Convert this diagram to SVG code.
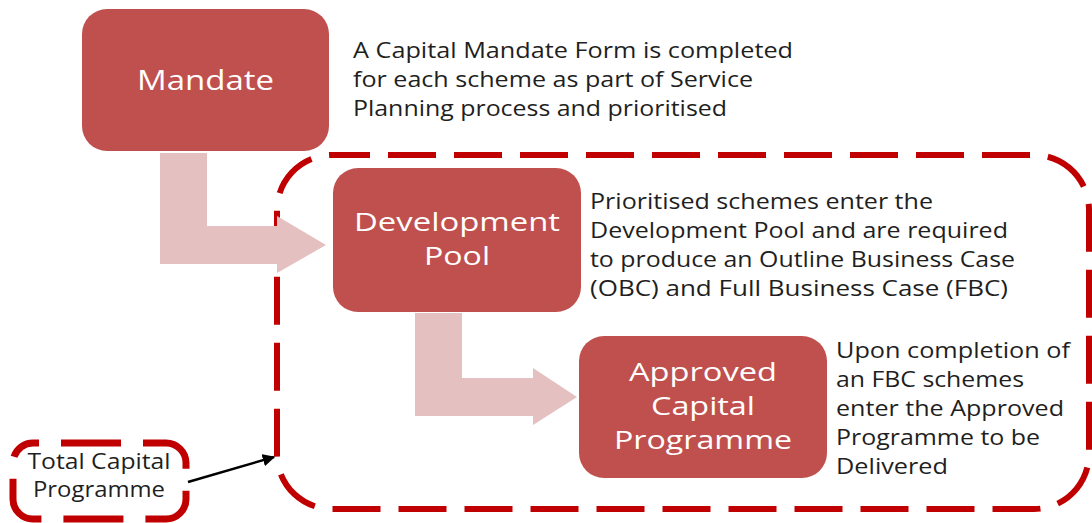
<svg xmlns="http://www.w3.org/2000/svg" width="1092" height="523" viewBox="0 0 1092 523">
<defs>
<style>
.box{fill:#C0504D;}
.lbl{fill:#FFFFFF;font-family:"Open Sans","Noto Sans",sans-serif;font-size:25px;text-anchor:middle;}
.desc{fill:#1F1F1F;font-family:"Open Sans","Noto Sans",sans-serif;font-size:22.5px;}
.pink{fill:#E4C0C1;}
.dash{fill:none;stroke:#C00000;stroke-width:6;stroke-dasharray:48 18;}
.dash2{fill:none;stroke:#C00000;stroke-width:7;stroke-dasharray:60 22;}
</style>
<marker id="ah" viewBox="0 0 10 10" refX="9" refY="5" markerWidth="5" markerHeight="5" orient="auto" markerUnits="strokeWidth">
<path d="M0,0 L10,5 L0,10 z" fill="#000"/>
</marker>
</defs>
<rect width="1092" height="523" fill="#FFFFFF"/>
<g id="total-capital-programme-frame">
<rect class="dash" x="277" y="155" width="812" height="354" rx="55" ry="55" stroke-dashoffset="10"/>
</g>
<g id="connectors">
<polygon class="pink" points="160,153 207,153 207,226 277,226 277,216 326,245 277,273 277,264 160,264"/>
<polygon class="pink" points="415,313 462,313 462,378 533,378 533,368 577,397 533,425 533,416 415,416"/>
<line x1="188" y1="482" x2="274" y2="457" stroke="#000" stroke-width="2.5" marker-end="url(#ah)"/>
</g>
<g id="mandate">
<rect class="box" x="82" y="9" width="247" height="142" rx="25"/>
<text class="lbl" x="205.5" y="90" textLength="137" lengthAdjust="spacingAndGlyphs" style="font-size:28px">Mandate</text>
</g>
<g id="mandate-desc">
<text class="desc" x="353" y="58" textLength="440" lengthAdjust="spacingAndGlyphs">A Capital Mandate Form is completed</text>
<text class="desc" x="353" y="87" textLength="400" lengthAdjust="spacingAndGlyphs">for each scheme as part of Service</text>
<text class="desc" x="353" y="116" textLength="374" lengthAdjust="spacingAndGlyphs">Planning process and prioritised</text>
</g>
<g id="development-pool">
<rect class="box" x="333" y="168" width="248" height="144" rx="25"/>
<text class="lbl" x="457" y="231" textLength="206" lengthAdjust="spacingAndGlyphs">Development</text>
<text class="lbl" x="457" y="265" textLength="66" lengthAdjust="spacingAndGlyphs">Pool</text>
</g>
<g id="development-desc">
<text class="desc" x="590" y="209" textLength="343" lengthAdjust="spacingAndGlyphs">Prioritised schemes enter the</text>
<text class="desc" x="590" y="238" textLength="418" lengthAdjust="spacingAndGlyphs">Development Pool and are required</text>
<text class="desc" x="590" y="267" textLength="425" lengthAdjust="spacingAndGlyphs">to produce an Outline Business Case</text>
<text class="desc" x="590" y="296" textLength="418" lengthAdjust="spacingAndGlyphs">(OBC) and Full Business Case (FBC)</text>
</g>
<g id="approved-capital-programme">
<rect class="box" x="579" y="336" width="248" height="142" rx="25"/>
<text class="lbl" x="703" y="381" textLength="148" lengthAdjust="spacingAndGlyphs">Approved</text>
<text class="lbl" x="703" y="415" textLength="104" lengthAdjust="spacingAndGlyphs">Capital</text>
<text class="lbl" x="703" y="449" textLength="178" lengthAdjust="spacingAndGlyphs">Programme</text>
</g>
<g id="approved-desc">
<text class="desc" x="836" y="358" textLength="234" lengthAdjust="spacingAndGlyphs">Upon completion of</text>
<text class="desc" x="836" y="387" textLength="188" lengthAdjust="spacingAndGlyphs">an FBC schemes</text>
<text class="desc" x="836" y="416" textLength="228" lengthAdjust="spacingAndGlyphs">enter the Approved</text>
<text class="desc" x="836" y="445" textLength="204" lengthAdjust="spacingAndGlyphs">Programme to be</text>
<text class="desc" x="836" y="474" textLength="112" lengthAdjust="spacingAndGlyphs">Delivered</text>
</g>
<g id="total-capital-programme">
<rect class="dash2" x="13" y="443" width="173" height="76" rx="20" stroke-dashoffset="-28"/>
<text class="desc" x="99" y="469" text-anchor="middle" textLength="143" lengthAdjust="spacingAndGlyphs">Total Capital</text>
<text class="desc" x="99" y="497" text-anchor="middle" textLength="132" lengthAdjust="spacingAndGlyphs">Programme</text>
</g>
</svg>
